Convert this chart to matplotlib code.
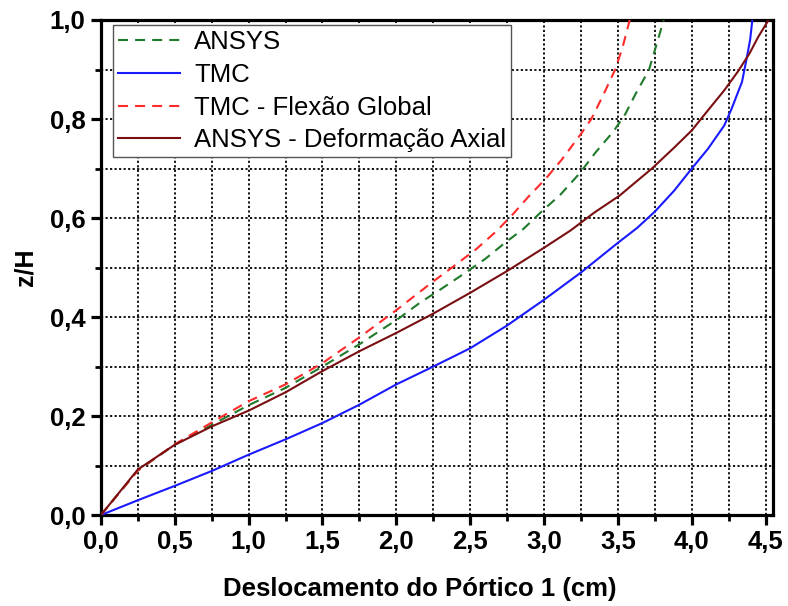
import matplotlib
matplotlib.use("Agg")
import matplotlib.pyplot as plt
from matplotlib.ticker import MultipleLocator, FixedLocator, FixedFormatter

# ---- data ----
ansys_x = [0, 0.25, 0.5, 0.75, 1.0, 1.25, 1.5, 1.75, 2.02, 2.16, 2.30, 2.45, 2.60, 2.74, 2.86,
           2.99, 3.11, 3.24, 3.35, 3.47, 3.55, 3.62, 3.71, 3.76, 3.81]
ansys_y = [0, 0.09, 0.142, 0.182, 0.222, 0.257, 0.30, 0.345, 0.398, 0.429, 0.456, 0.486, 0.517, 0.551, 0.578,
           0.615, 0.647, 0.69, 0.733, 0.775, 0.81, 0.851, 0.899, 0.949, 1.0]

tmc_x = [0, 0.25, 0.5, 0.75, 1.0, 1.25, 1.5, 1.75, 2.0, 2.25, 2.5, 2.75, 3.0, 3.25, 3.5, 3.63,
         3.75, 3.88, 4.0, 4.11, 4.22, 4.27, 4.34, 4.37, 4.395, 4.41]
tmc_y = [0, 0.03, 0.059, 0.089, 0.122, 0.153, 0.186, 0.223, 0.264, 0.30, 0.337, 0.383, 0.435, 0.49, 0.55, 0.58,
         0.613, 0.655, 0.70, 0.74, 0.787, 0.821, 0.875, 0.92, 0.96, 1.0]

flex_x = [0, 0.25, 0.5, 0.75, 1.0, 1.25, 1.5, 1.75, 2.0, 2.25, 2.39, 2.54, 2.68, 2.79, 2.90, 3.01,
          3.12, 3.25, 3.32, 3.40, 3.48, 3.53, 3.58]
flex_y = [0, 0.09, 0.143, 0.187, 0.23, 0.264, 0.307, 0.359, 0.414, 0.472, 0.503, 0.537, 0.574, 0.608, 0.645, 0.679,
          0.718, 0.77, 0.80, 0.848, 0.899, 0.943, 1.0]

axial_x = [0, 0.25, 0.5, 0.75, 1.0, 1.25, 1.5, 1.75, 2.0, 2.25, 2.5, 2.75, 3.0, 3.18, 3.34, 3.51,
           3.73, 3.88, 4.0, 4.10, 4.22, 4.31, 4.39, 4.45, 4.52]
axial_y = [0, 0.092, 0.142, 0.179, 0.211, 0.248, 0.291, 0.331, 0.368, 0.407, 0.449, 0.493, 0.54, 0.575, 0.611, 0.645,
           0.70, 0.742, 0.777, 0.814, 0.858, 0.895, 0.932, 0.966, 1.0]

series_labels = ["ANSYS", "TMC", "TMC - Flexão Global", "ANSYS - Deformação Axial"]

x_ticks = [0, 0.5, 1.0, 1.5, 2.0, 2.5, 3.0, 3.5, 4.0, 4.5]
x_tick_labels = ["0,0", "0,5", "1,0", "1,5", "2,0", "2,5", "3,0", "3,5", "4,0", "4,5"]
y_ticks = [0, 0.2, 0.4, 0.6, 0.8, 1.0]
y_tick_labels = ["0,0", "0,2", "0,4", "0,6", "0,8", "1,0"]

x_label = "Deslocamento do Pórtico 1 (cm)"
y_label = "z/H"

# ---- figure ----
plt.rcParams['font.family'] = ['Liberation Sans', 'DejaVu Sans']
fig = plt.figure(figsize=(7.88, 6.06), dpi=100)
ax = fig.add_axes([0.128, 0.150, 0.853, 0.817])

lw = 1.5
ax.plot(ansys_x, ansys_y, color='#1f7a2a', lw=lw, dashes=(4.8, 3.4), label=series_labels[0], zorder=3)
ax.plot(tmc_x, tmc_y, color='#1a1aff', lw=lw, label=series_labels[1], zorder=3)
ax.plot(flex_x, flex_y, color='#ff2a2a', lw=lw, dashes=(4.8, 3.4), label=series_labels[2], zorder=3)
ax.plot(axial_x, axial_y, color='#7a0f12', lw=lw, label=series_labels[3], zorder=3)

ax.set_xlim(0, 4.55)
ax.set_ylim(0, 1.0)

ax.xaxis.set_major_locator(FixedLocator(x_ticks))
ax.xaxis.set_major_formatter(FixedFormatter(x_tick_labels))
ax.yaxis.set_major_locator(FixedLocator(y_ticks))
ax.yaxis.set_major_formatter(FixedFormatter(y_tick_labels))
ax.xaxis.set_minor_locator(MultipleLocator(0.25))
ax.yaxis.set_minor_locator(MultipleLocator(0.1))

ax.grid(True, which='both', color='black', linestyle=(0, (1.2, 1.3)), linewidth=1.3, zorder=1)
ax.set_axisbelow(True)

for s in ax.spines.values():
    s.set_linewidth(2.3)
    s.set_color('black')

ax.tick_params(which='major', direction='out', length=7, width=2.3, labelsize=18.5, pad=4)
ax.tick_params(which='minor', direction='out', length=4, width=2.0)
for lab in ax.get_xticklabels() + ax.get_yticklabels():
    lab.set_fontweight('bold')

ax.set_xlabel(x_label, fontsize=18.5, fontweight='bold', labelpad=11)
ax.xaxis.set_label_coords(0.475, -0.125)
ax.set_ylabel(y_label, fontsize=18, fontweight='bold', labelpad=9)

leg = ax.legend(loc='upper left', bbox_to_anchor=(0.018, 0.99), borderaxespad=0,
                fontsize=18.5, frameon=True, fancybox=False, framealpha=1,
                edgecolor='#555555', handlelength=2.4, handletextpad=0.55,
                labelspacing=0.34, borderpad=0.2)
leg.get_frame().set_linewidth(1.0)

fig.savefig("out.png", dpi=100)
